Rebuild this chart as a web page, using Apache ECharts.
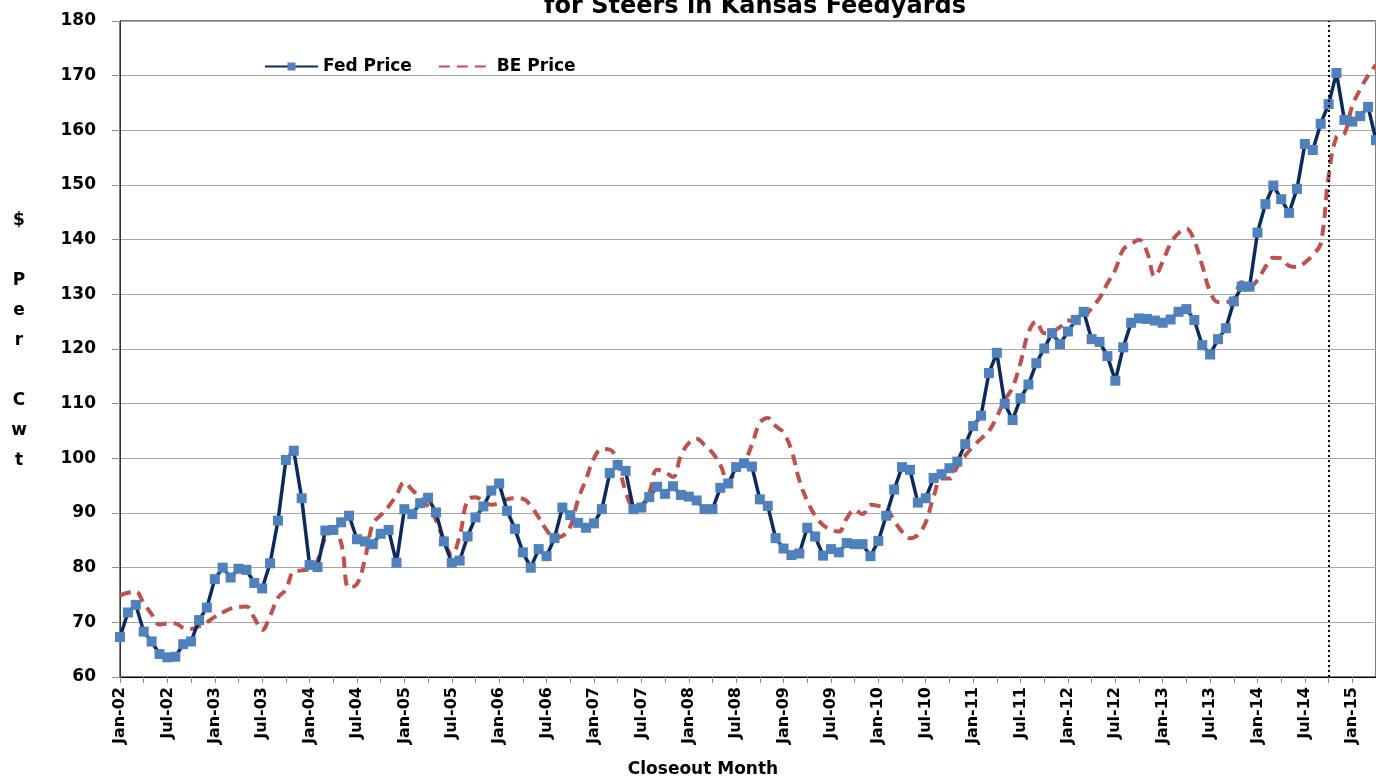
<!DOCTYPE html>
<html>
<head>
<meta charset="utf-8">
<title>Fed Price vs BE Price</title>
<script src="https://cdn.jsdelivr.net/npm/echarts@6/dist/echarts.min.js"></script>
<style>
  html, body { margin: 0; padding: 0; background: #fff; }
  #chart { width: 1376px; height: 780px; }
</style>
</head>
<body>
<div id="chart"></div>
<script>
var FONT = 'DejaVu Sans';

// closeout months, Jan-02 .. Apr-15
var monthNames = ['Jan', 'Feb', 'Mar', 'Apr', 'May', 'Jun', 'Jul', 'Aug', 'Sep', 'Oct', 'Nov', 'Dec'];
var months = [];
for (var yr = 2; yr <= 15; yr++) {
    for (var m = 0; m < 12; m++) {
        if (yr === 15 && m > 3) break;
        months.push(monthNames[m] + '-' + (yr < 10 ? '0' + yr : yr));
    }
}

// $/cwt
var fedPrice = [
    67.3, 71.8, 73.2, 68.3, 66.5, 64.2, 63.6, 63.7, 66.0, 66.5, 70.4, 72.7,     // 2002
    77.9, 80.0, 78.2, 79.8, 79.6, 77.2, 76.2, 80.8, 88.6, 99.7, 101.4, 92.7,    // 2003
    80.5, 80.1, 86.8, 86.9, 88.3, 89.5, 85.2, 84.8, 84.3, 86.2, 86.9, 80.9,     // 2004
    90.7, 89.8, 91.8, 92.8, 90.1, 84.8, 80.9, 81.3, 85.7, 89.2, 91.2, 94.1,     // 2005
    95.4, 90.4, 87.1, 82.8, 80.0, 83.4, 82.1, 85.4, 91.0, 89.6, 88.2, 87.3,     // 2006
    88.1, 90.7, 97.3, 98.8, 97.7, 90.7, 91.0, 92.9, 94.8, 93.5, 94.9, 93.3,     // 2007
    93.0, 92.3, 90.7, 90.7, 94.6, 95.4, 98.4, 99.1, 98.5, 92.5, 91.3, 85.4,     // 2008
    83.5, 82.3, 82.6, 87.3, 85.7, 82.2, 83.4, 82.8, 84.5, 84.3, 84.3, 82.1,     // 2009
    84.9, 89.5, 94.3, 98.4, 97.9, 91.9, 92.7, 96.4, 97.1, 98.2, 99.4, 102.6,    // 2010
    105.9, 107.8, 115.6, 119.3, 110.0, 107.0, 111.0, 113.5, 117.4, 120.1, 122.9, 120.9, // 2011
    123.2, 125.3, 126.8, 121.8, 121.3, 118.7, 114.2, 120.3, 124.8, 125.6, 125.5, 125.2, // 2012
    124.8, 125.4, 126.8, 127.3, 125.3, 120.7, 119.0, 121.8, 123.8, 128.7, 131.4, 131.4, // 2013
    141.3, 146.5, 149.9, 147.4, 144.9, 149.3, 157.5, 156.4, 161.2, 164.8, 170.5, 161.9, // 2014
    161.6, 162.6, 164.3, 158.2                                                  // 2015
];

var bePrice = [
    74.9, 75.4, 75.6, 73.5, 71.5, 69.6, 69.8, 69.8, 69.0, 68.8, 69.3, 70.0,
    71.0, 71.8, 72.5, 72.8, 72.9, 70.8, 68.6, 71.2, 74.5, 76.0, 79.3, 79.5,
    79.8, 81.3, 85.5, 87.0, 84.5, 76.3, 77.0, 81.5, 88.0, 89.6, 91.2, 93.3,
    95.6, 94.2, 92.8, 91.2, 88.7, 85.0, 82.4, 85.8, 92.4, 92.9, 92.2, 91.5,
    91.8, 92.5, 92.7, 92.6, 91.3, 89.2, 86.9, 85.5, 85.8, 87.5, 92.5, 96.2,
    100.0, 101.7, 101.6, 99.3, 94.0, 91.3, 91.5, 93.7, 97.9, 97.5, 96.6, 100.5,
    102.8, 103.6, 102.4, 101.0, 98.8, 95.6, 97.9, 99.3, 102.5, 106.5, 107.4, 105.9,
    104.7, 101.5, 96.0, 92.2, 89.5, 87.8, 87.0, 86.6, 89.0, 90.6, 89.8, 91.5,
    91.3, 90.9, 88.6, 86.6, 85.4, 86.0, 88.3, 93.0, 96.3, 96.3, 98.5, 100.5,
    102.2, 103.6, 105.0, 107.6, 110.6, 113.0, 117.5, 123.0, 125.0, 122.9, 123.2, 124.0,
    125.2, 125.2, 125.8, 127.5, 129.3, 132.0, 134.5, 138.2, 139.2, 140.0, 137.8, 133.3,
    136.0, 139.3, 141.2, 142.0, 139.8, 135.3, 130.5, 128.6, 128.6, 129.2, 132.2, 131.4,
    132.6, 135.0, 136.7, 136.6, 135.2, 135.0, 135.8, 137.2, 139.3, 151.5, 158.8, 159.4,
    164.5, 167.5, 170.0, 172.0
];

var yMin = 60, yMax = 180, yStep = 10;
var markMonth = 'Oct-14';   // dotted divider

var chart = echarts.init(document.getElementById('chart'));

var boldText = function (size) {
    return { fontFamily: FONT, fontWeight: 'bold', fontSize: size, color: '#000' };
};

chart.setOption({
    animation: false,
    backgroundColor: '#fff',
    graphic: [
        // title is cut off at the top in the original
        { type: 'text', x: 755, y: -5,
          style: { text: 'for Steers in Kansas Feedyards', textAlign: 'center', font: 'bold 24px ' + FONT, fill: '#000' } },
        { type: 'text', x: 19, y: 206,
          style: { text: '$\n\nP\ne\nr\n\nC\nw\nt', textAlign: 'center', lineHeight: 30, font: 'bold 17px ' + FONT, fill: '#000' } },
        { type: 'text', x: 703, y: 761,
          style: { text: 'Closeout Month', textAlign: 'center', font: 'bold 17px ' + FONT, fill: '#000' } }
    ],
    legend: {
        data: [
            { name: 'Fed Price' },
            { name: 'BE Price', itemStyle: { opacity: 0 } }
        ],
        left: 259,
        top: 53,
        itemWidth: 53,
        itemHeight: 10,
        itemGap: 26,
        textStyle: boldText(17)
    },
    grid: {
        left: 120, top: 21, width: 1261, height: 656,
        show: true, borderColor: '#000', borderWidth: 1
    },
    xAxis: {
        type: 'category',
        data: months,
        boundaryGap: false,
        axisLine: { lineStyle: { color: '#000', width: 1 } },
        axisTick: { interval: 2, length: 6, lineStyle: { color: '#8c8c8c' } },
        axisLabel: Object.assign({ interval: 5, rotate: 90, margin: 10 }, boldText(16)),
        splitLine: { show: false }
    },
    yAxis: {
        type: 'value',
        min: yMin, max: yMax, interval: yStep,
        axisLine: { show: true, lineStyle: { color: '#333', width: 1 } },
        axisTick: { show: true, length: 8, lineStyle: { color: '#8c8c8c' } },
        axisLabel: Object.assign({ margin: 24 }, boldText(17)),
        splitLine: { lineStyle: { color: '#a6a6a6', width: 1 } }
    },
    series: [
        {
            name: 'Fed Price',
            type: 'line',
            data: fedPrice,
            symbol: 'rect',
            symbolSize: 10,
            showAllSymbol: true,
            z: 3,
            lineStyle: { color: '#0d2a5c', width: 3.5 },
            itemStyle: { color: '#4f81bd' },
            markLine: {
                silent: true,
                symbol: ['none', 'none'],
                label: { show: false },
                lineStyle: { color: '#000', type: [2, 3], width: 2 },
                data: [{ xAxis: markMonth }]
            }
        },
        {
            name: 'BE Price',
            type: 'line',
            data: bePrice,
            smooth: 0.4,
            symbol: 'none',
            z: 2,
            lineStyle: { color: '#c0504d', width: 4, type: [11, 7] },
            itemStyle: { color: '#c0504d' }
        }
    ]
});
</script>
</body>
</html>
